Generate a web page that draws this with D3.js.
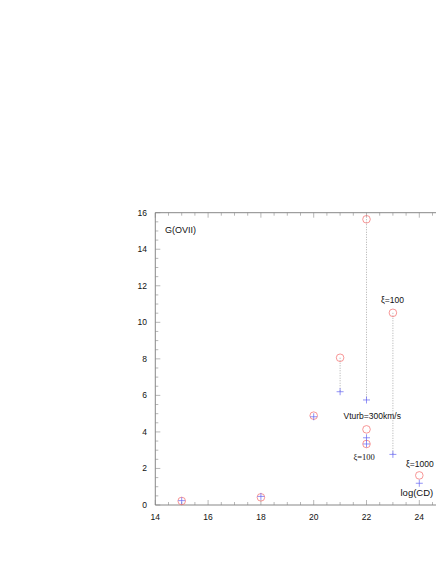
<!DOCTYPE html>
<html>
<head>
<meta charset="utf-8">
<script src="https://cdn.jsdelivr.net/npm/d3@7"></script>
<style>
body{margin:0;background:#fff;}
svg{display:block;}
text{font-family:"Liberation Sans",Arial,sans-serif;fill:#111;}
</style>
</head>
<body>
<svg id="chart" width="436" height="564"></svg>
<script>
// log(CD) of each model
var cdCircle = [15, 18, 20, 21, 22, 22, 22, 23, 24];
var gCircle  = [0.22, 0.42, 4.89, 8.06, 15.64, 4.14, 3.34, 10.52, 1.62];
var cdPlus   = [15, 18, 20, 21, 22, 22, 22, 23, 24];
var gPlus    = [0.24, 0.47, 4.83, 6.2, 5.75, 3.68, 3.34, 2.77, 1.19];
// dotted connectors: [x, from, to]
var links = [[21, 8.06, 6.2], [22, 15.64, 5.75], [23, 10.52, 2.77]];
var xTicks = [14, 16, 18, 20, 22, 24];
var yTicks = [0, 2, 4, 6, 8, 10, 12, 14, 16];

var svg = d3.select("#chart");
var x = d3.scaleLinear().domain([14, 25]).range([155.3, 155.3 + 11 * 26.4]);
var y = d3.scaleLinear().domain([0, 16]).range([505, 212.7]);

var ax = svg.append("g");
// frame
ax.append("line").attr("x1", x(14)).attr("x2", x(25)).attr("y1", y(0)).attr("y2", y(0)).attr("stroke", "#555").attr("stroke-width", 0.7);
ax.append("line").attr("x1", x(14)).attr("x2", x(25)).attr("y1", y(16)).attr("y2", y(16)).attr("stroke", "#555").attr("stroke-width", 0.7);
ax.append("line").attr("x1", x(14)).attr("x2", x(14)).attr("y1", y(0)).attr("y2", y(16)).attr("stroke", "#555").attr("stroke-width", 0.7);

// minor + major ticks, pointing inward
var xt = d3.range(14, 25.01, 0.5);
xt.forEach(function(v){
  var len = (v % 2 === 0) ? 5 : 3;
  ax.append("line").attr("x1", x(v)).attr("x2", x(v)).attr("y1", y(0)).attr("y2", y(0) - len).attr("stroke", "#888").attr("stroke-width", 0.6);
  ax.append("line").attr("x1", x(v)).attr("x2", x(v)).attr("y1", y(16)).attr("y2", y(16) + len).attr("stroke", "#888").attr("stroke-width", 0.6);
});
var yt = d3.range(0, 16.01, 0.5);
yt.forEach(function(v){
  var len = (v % 2 === 0) ? 5 : 3;
  ax.append("line").attr("x1", x(14)).attr("x2", x(14) + len).attr("y1", y(v)).attr("y2", y(v)).attr("stroke", "#888").attr("stroke-width", 0.6);
});

ax.selectAll(".xl").data(xTicks).join("text")
  .attr("x", function(d){ return x(d); }).attr("y", 520)
  .attr("text-anchor", "middle").attr("font-size", 8.5)
  .text(function(d){ return d; });
ax.selectAll(".yl").data(yTicks).join("text")
  .attr("x", 147).attr("y", function(d){ return y(d) + 3; })
  .attr("text-anchor", "end").attr("font-size", 8.5)
  .text(function(d){ return d; });

// dotted connectors
svg.append("g").selectAll("line").data(links).join("line")
  .attr("x1", function(d){ return x(d[0]); }).attr("x2", function(d){ return x(d[0]); })
  .attr("y1", function(d){ return y(d[1]); }).attr("y2", function(d){ return y(d[2]); })
  .attr("stroke", "#999").attr("stroke-width", 0.8).attr("stroke-dasharray", "1,1.5");

// circles
svg.append("g").selectAll("circle").data(cdCircle).join("circle")
  .attr("cx", function(d){ return x(d); })
  .attr("cy", function(d, i){ return y(gCircle[i]); })
  .attr("r", 3.8).attr("fill", "none").attr("stroke", "#f46a6a").attr("stroke-width", 0.7);

// plus markers
var s = 3.5;
svg.append("g").selectAll("path").data(cdPlus).join("path")
  .attr("d", function(d, i){
    var cx = x(d), cy = y(gPlus[i]);
    return "M" + (cx - s) + "," + cy + "H" + (cx + s) + "M" + cx + "," + (cy - s) + "V" + (cy + s);
  })
  .attr("stroke", "#6464f2").attr("stroke-width", 0.7).attr("fill", "none");

// annotations
svg.append("text").attr("x", 165).attr("y", 232.5).attr("font-size", 9).text("G(OVII)");
svg.append("text").attr("x", 381).attr("y", 303).attr("font-size", 8.5).text("ξ=100");
svg.append("text").attr("x", 343.5).attr("y", 419).attr("font-size", 8.5).text("Vturb=300km/s");
svg.append("text").attr("x", 353.5).attr("y", 459.5).attr("font-size", 8.5)
  .style("font-family", "'Liberation Serif','Times New Roman',serif").text("ξ=100");
svg.append("text").attr("x", 406).attr("y", 467).attr("font-size", 8.5).text("ξ=1000");
svg.append("text").attr("x", 400.5).attr("y", 496).attr("font-size", 9.5).text("log(CD)");
</script>
</body>
</html>
